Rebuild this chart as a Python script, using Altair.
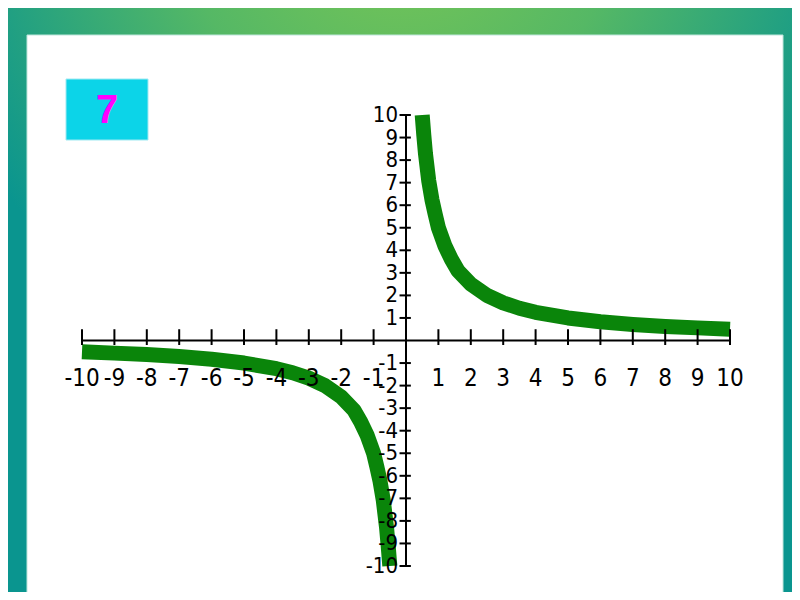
import altair as alt
import pandas as pd

# values (curve samples)
pos_x = [0.5, 0.55, 0.6, 0.7, 0.8, 0.9, 1.0, 1.2, 1.4, 1.6, 1.8, 2.0, 2.5, 3.0, 3.5, 4.0, 5.0, 6.0, 7.0, 8.0, 9.0, 10.0]
pos_y = [10.0, 9.1, 8.3, 7.1, 6.25, 5.6, 5.0, 4.2, 3.6, 3.1, 2.8, 2.5, 2.0, 1.67, 1.43, 1.25, 1.0, 0.83, 0.71, 0.62, 0.56, 0.5]
neg_x = [-10.0, -9.0, -8.0, -7.0, -6.0, -5.0, -4.0, -3.5, -3.0, -2.5, -2.0, -1.8, -1.6, -1.4, -1.2, -1.0, -0.9, -0.8, -0.7, -0.6, -0.55, -0.5]
neg_y = [-0.5, -0.56, -0.62, -0.71, -0.83, -1.0, -1.25, -1.43, -1.67, -2.0, -2.5, -2.8, -3.1, -3.6, -4.2, -5.0, -5.6, -6.25, -7.1, -8.3, -9.1, -10.0]
tick_vals = [-10, -9, -8, -7, -6, -5, -4, -3, -2, -1, 1, 2, 3, 4, 5, 6, 7, 8, 9, 10]
tick_labels = ["-10", "-9", "-8", "-7", "-6", "-5", "-4", "-3", "-2", "-1",
               "1", "2", "3", "4", "5", "6", "7", "8", "9", "10"]
axis_ends = [-10, 10]
badge_text = ["7"]

W, H = 648, 451
PL, PT, PR, PB = 74, 107, 62, 26

curve = pd.DataFrame({
    "x": pos_x + neg_x,
    "y": pos_y + neg_y,
    "branch": ["pos"] * len(pos_x) + ["neg"] * len(neg_x),
    "order": list(range(len(pos_x))) + list(range(len(neg_x))),
})
ticks = pd.DataFrame({"t": tick_vals, "lab": tick_labels})
ends = pd.DataFrame({"lo": [axis_ends[0]], "hi": [axis_ends[1]]})
one = pd.DataFrame({"a": [0]})

xscale = alt.Scale(domain=[-10, 10], nice=False, zero=False)
yscale = alt.Scale(domain=[-10, 10], nice=False, zero=False)

lab_font = "DejaVu Sans Condensed, Liberation Sans Narrow, DejaVu Sans, sans-serif"

bg = alt.Chart(one).mark_rect(
    fill={"gradient": "radial", "x1": 0.5, "y1": 0.0, "r1": 0.0,
          "x2": 0.5, "y2": 0.0, "r2": 0.62,
          "stops": [{"offset": 0, "color": "#7cc753"},
                    {"offset": 0.45, "color": "#55b865"},
                    {"offset": 1, "color": "#0a958f"}]}
).encode(x=alt.value(-PL), x2=alt.value(W + PR), y=alt.value(-PT), y2=alt.value(H + PB))

panel = alt.Chart(one).mark_rect(fill="white", stroke="#bfe6dc", strokeWidth=1).encode(
    x=alt.value(19 - PL), x2=alt.value(775 - PL), y=alt.value(27 - PT), y2=alt.value(H + PB + 5)
)

badge = alt.Chart(one).mark_rect(fill="#0cd4e8", stroke="#9fe9f2", strokeWidth=1).encode(
    x=alt.value(58 - PL), x2=alt.value(140 - PL), y=alt.value(71 - PT), y2=alt.value(132 - PT)
)

badge_t = alt.Chart(pd.DataFrame({"s": badge_text})).mark_text(
    font="Liberation Sans, Arial, sans-serif", fontWeight="bold", fontSize=40,
    color="#ff00ff", align="center", baseline="middle"
).encode(x=alt.value(99 - PL), y=alt.value(103 - PT), text="s:N")

x_axis = alt.Chart(ends).mark_rule(color="black", strokeWidth=2).encode(
    x=alt.X("lo:Q", scale=xscale, axis=None), x2="hi:Q",
    y=alt.datum(0, scale=yscale, axis=None)
)
y_axis = alt.Chart(ends).mark_rule(color="black", strokeWidth=2).encode(
    y=alt.Y("lo:Q", scale=yscale, axis=None), y2="hi:Q",
    x=alt.datum(0, scale=xscale, axis=None)
)

xt = alt.Chart(ticks).mark_rule(color="black", strokeWidth=2).encode(
    x=alt.X("t:Q", scale=xscale, axis=None),
    y=alt.datum(-0.2, scale=yscale, axis=None), y2=alt.datum(0.5)
)
yt = alt.Chart(ticks).mark_rule(color="black", strokeWidth=2).encode(
    y=alt.Y("t:Q", scale=yscale, axis=None),
    x=alt.datum(-0.2, scale=xscale, axis=None), x2=alt.datum(0.15)
)

xl = alt.Chart(ticks).mark_text(
    font=lab_font, fontSize=24, color="black", align="center", baseline="middle", dy=38
).encode(
    x=alt.X("t:Q", scale=xscale, axis=None),
    y=alt.datum(0, scale=yscale, axis=None),
    text="lab:N",
)
yl = alt.Chart(ticks).mark_text(
    font=lab_font, fontSize=22, color="black", align="right", baseline="middle", dx=-8
).encode(
    y=alt.Y("t:Q", scale=yscale, axis=None),
    x=alt.datum(0, scale=xscale, axis=None),
    text="lab:N",
)

lines = alt.Chart(curve).mark_line(color="#0a850a", strokeWidth=15, strokeCap="butt", strokeJoin="round").encode(
    x=alt.X("x:Q", scale=xscale, axis=None),
    y=alt.Y("y:Q", scale=yscale, axis=None),
    detail="branch:N",
    order="order:Q",
)

chart = alt.layer(bg, panel, badge, badge_t, lines, x_axis, y_axis, xt, yt, xl, yl).properties(
    width=W, height=H,
    autosize=alt.AutoSizeParams(type="none"),
    padding={"left": PL, "top": PT, "right": PR, "bottom": PB},
).configure_view(stroke=None)

chart.save("out.html", embed_options={"renderer": "svg", "actions": False})
